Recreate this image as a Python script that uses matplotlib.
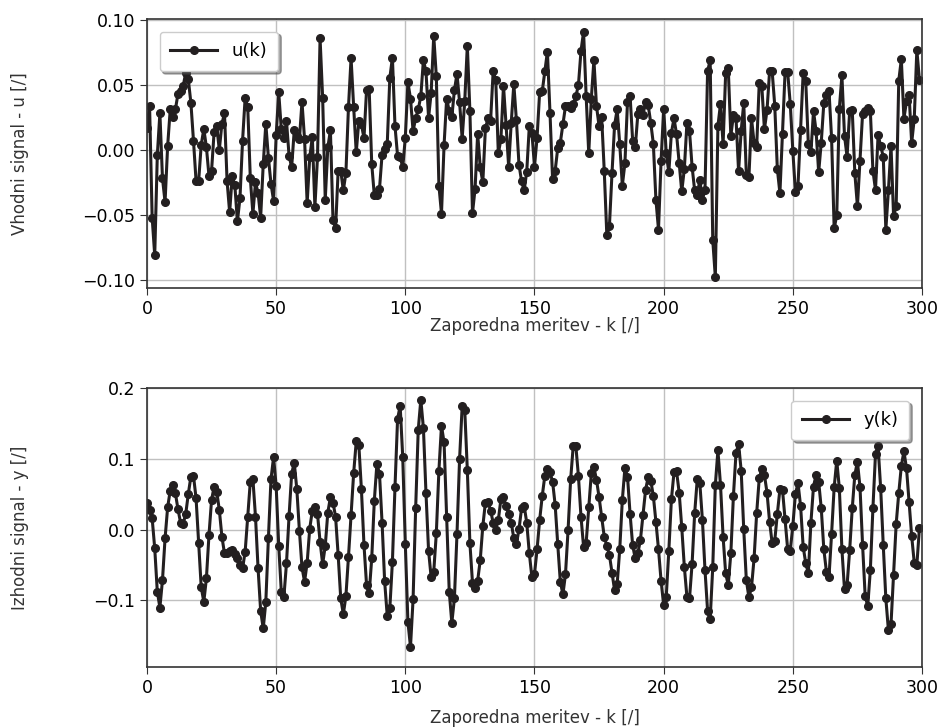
import numpy as np
import matplotlib
matplotlib.use('Agg')
import matplotlib.pyplot as plt

# ── Data ──────────────────────────────────────────────────────────────────────
u_k = [
    0.017, 0.034, -0.052, -0.081, -0.004, 0.028, -0.022, -0.040, 0.003, 0.031,
    0.025, 0.031, 0.043, 0.045, 0.049, 0.059, 0.054, 0.036, 0.007, -0.024,
    -0.024, 0.004, 0.016, 0.002, -0.020, -0.016, 0.014, 0.018, 0.000, 0.020,
    0.028, -0.024, -0.048, -0.020, -0.027, -0.055, -0.037, 0.007, 0.040, 0.033,
    -0.022, -0.049, -0.025, -0.033, -0.052, -0.011, 0.020, -0.006, -0.026, -0.039,
    0.011, 0.044, 0.0157, 0.0094, 0.0221, -0.0046, -0.0135, 0.0150, 0.0107, 0.0081,
    0.0368, 0.0081, -0.0409, -0.0058, 0.0099, -0.0439, -0.0058, 0.0855, 0.0398, -0.0383,
    0.0018, 0.0150, -0.0536, -0.0604, -0.016, -0.016, -0.0312, -0.0178, 0.033, 0.0703,
    0.033, -0.002, 0.0221, 0.0195, 0.0089, 0.0462, 0.0467, -0.0109, -0.035, -0.035,
    -0.030, -0.0038, 0.0005, 0.0043, 0.0551, 0.0708, 0.0183, -0.0046, -0.0053, -0.0135,
    0.0094, 0.052, 0.0393, 0.0145, 0.0241, 0.031, 0.0411, 0.069, 0.0602, 0.0246,
    0.0437, 0.0876, 0.0563, -0.0274, -0.049, 0.0038, 0.0393, 0.0297, 0.0251, 0.0457,
    0.0584, 0.0366, 0.0086, 0.0373, 0.080, 0.0297, -0.0485, -0.030, 0.0124, -0.0135,
    -0.0249, 0.0165, 0.0241, 0.0221, 0.0602, 0.0538, -0.0028, 0.0081, 0.0492, 0.019,
    -0.0129, 0.0208, 0.0505, 0.0226, -0.0114, -0.0241, -0.0312, -0.0168, 0.0183, 0.0132,
    -0.0129, 0.0094, 0.0444, 0.0449, 0.0602, 0.0754, 0.0284, -0.0223, -0.016, 0.0013,
    0.0056, 0.0195, 0.0335, 0.034, 0.0322, 0.0348, 0.0411, 0.0495, 0.0759, 0.0906,
    0.0411, -0.0028, 0.0393, 0.069, 0.0335, 0.0183, 0.0251, -0.016, -0.0655, -0.0586,
    -0.018, 0.019, 0.031, 0.0043, -0.0274, -0.0104, 0.0368, 0.0416, 0.0069, 0.0018,
    0.0272, 0.031, 0.0267, 0.0368, 0.0343, 0.0208, 0.0048, -0.0383, -0.0612, -0.0084,
    0.0315, -0.0028, -0.0173, 0.0132, 0.0241, 0.0119, -0.0104, -0.032, -0.0147, 0.0203,
    0.0145, -0.0129, -0.0312, -0.0345, -0.0231, -0.0383, -0.0307, 0.0602, 0.069, -0.0693,
    -0.0977, 0.0183, 0.0353, 0.0043, 0.0589, 0.0627, 0.0107, 0.0264, 0.0246, -0.0165,
    0.0145, 0.036, -0.019, -0.0211, 0.0241, 0.0056, 0.0023, 0.0513, 0.0487, 0.0157,
    0.0302, 0.0602, 0.0602, 0.034, -0.0147, -0.0333, 0.0124, 0.0597, 0.0597, 0.0353,
    -0.0008, -0.0325, -0.0274, 0.015, 0.0589, 0.0525, 0.0043, -0.002, 0.0297, 0.0145,
    -0.0173, 0.0056, 0.036, 0.0424, 0.0454, 0.0089, -0.0604, -0.0503, 0.0317, 0.0571,
    0.0107, -0.0053, 0.0297, 0.0302, -0.018, -0.0434, -0.0084, 0.0277, 0.0297, 0.0322,
    0.0297, -0.016, -0.0307, 0.0114, 0.003, -0.0053, -0.0612, -0.0312, 0.003, -0.051,
    -0.0434, 0.053, 0.0695, 0.0239, 0.0373, 0.0424, 0.0053, 0.0239, 0.0767, 0.0538,
]

y_k = [
    0.0373, 0.0278, 0.016, -0.0264, -0.0877, -0.11, -0.0712, -0.0123, 0.0316, 0.0552,
    0.0632, 0.0514, 0.0288, 0.0099, 0.008, 0.0222, 0.0505, 0.075, 0.076, 0.0443,
    -0.0193, -0.0816, -0.1019, -0.0689, -0.0075, 0.042, 0.0608, 0.0538, 0.0278, -0.0099,
    -0.0335, -0.0335, -0.030, -0.0288, -0.0344, -0.0406, -0.05, -0.0547, -0.0311, 0.0184,
    0.0679, 0.0712, 0.0184, -0.0547, -0.1146, -0.1396, -0.1019, -0.0123, 0.0712, 0.1024,
    0.0618, -0.0231, -0.0877, -0.0948, -0.0476, 0.0193, 0.0788, 0.0948, 0.0571, -0.0014,
    -0.0533, -0.0736, -0.0467, 0.0014, 0.0269, 0.0325, 0.0222, -0.017, -0.0486, -0.0231,
    0.0241, 0.0458, 0.0382, 0.0184, -0.0358, -0.0972, -0.1193, -0.0939, -0.0382, 0.0208,
    0.0797, 0.1245, 0.1198, 0.0571, -0.0217, -0.0783, -0.0901, -0.0406, 0.041, 0.0929,
    0.0788, 0.0099, -0.0731, -0.1217, -0.1113, -0.0453, 0.0599, 0.1561, 0.175, 0.1024,
    -0.0203, -0.1302, -0.1656, -0.0986, 0.0302, 0.141, 0.1835, 0.1434, 0.0514, -0.0297,
    -0.0675, -0.0594, -0.0052, 0.0835, 0.1467, 0.1231, 0.0184, -0.0877, -0.1316, -0.0972,
    -0.0061, 0.0995, 0.1741, 0.1693, 0.0844, -0.0193, -0.075, -0.083, -0.0722, -0.0429,
    0.0052, 0.0382, 0.0396, 0.0269, 0.0099, -0.0005, 0.0137, 0.0429, 0.0458, 0.0335,
    0.0222, 0.0099, -0.0123, -0.0203, 0.0005, 0.0302, 0.0335, 0.0099, -0.0335, -0.0675,
    -0.0627, -0.0278, 0.0137, 0.0476, 0.0759, 0.0854, 0.0807, 0.0679, 0.0349, -0.0208,
    -0.0736, -0.0915, -0.0627, -0.0005, 0.0712, 0.1184, 0.1184, 0.0759, 0.0184, -0.0241,
    -0.0184, 0.0316, 0.0797, 0.0882, 0.0703, 0.0458, 0.0175, -0.0099, -0.0231, -0.0358,
    -0.0608, -0.0854, -0.0769, -0.0278, 0.042, 0.0868, 0.075, 0.0222, -0.0222, -0.0406,
    -0.0335, -0.0146, 0.0208, 0.0561, 0.0741, 0.0693, 0.0476, 0.0113, -0.0278, -0.0722,
    -0.1066, -0.0948, -0.0297, 0.0429, 0.0807, 0.0821, 0.0524, 0.0033, -0.0524, -0.0948,
    -0.0972, -0.0486, 0.0231, 0.0712, 0.0656, 0.0137, -0.0571, -0.1146, -0.1264, -0.0533,
    0.0632, 0.1118, 0.0632, -0.0099, -0.0618, -0.0783, -0.0335, 0.0476, 0.108, 0.1212,
    0.0835, 0.0005, -0.0712, -0.0958, -0.0816, -0.0406, 0.0231, 0.0726, 0.0854, 0.0774,
    0.0524, 0.0113, -0.0193, -0.0156, 0.0222, 0.0571, 0.0561, 0.0146, -0.0278, -0.0297,
    0.0052, 0.0505, 0.0656, 0.0335, -0.0241, -0.0476, -0.0618, 0.0099, 0.0608, 0.0774,
    0.0679, 0.0302, -0.0278, -0.0594, -0.0665, -0.0061, 0.0599, 0.0976, 0.0585, -0.0278,
    -0.0844, -0.0783, -0.0288, 0.0302, 0.0774, 0.0962, 0.0599, -0.0217, -0.0939, -0.108,
    -0.0571, 0.0302, 0.1071, 0.1175, 0.0585, -0.0217, -0.0972, -0.142, -0.1335, -0.0642,
    0.008, 0.0514, 0.0901, 0.1104, 0.0868, 0.0396, -0.009, -0.0467, -0.05, 0.0019,
]

k_u = np.arange(len(u_k))
k_y = np.arange(len(y_k))

x_ticks = [0, 50, 100, 150, 200, 250, 300]
u_ticks = [-0.10, -0.05, 0.00, 0.05, 0.10]
y_ticks = [-0.1, 0.0, 0.1, 0.2]

# ── Plot ──────────────────────────────────────────────────────────────────────
fig = plt.figure(figsize=(9.44, 7.27), dpi=100)
ax1 = fig.add_axes([0.1557, 0.6040, 0.8210, 0.3700])
ax2 = fig.add_axes([0.1557, 0.0825, 0.8210, 0.3838])

line_kw = dict(color='#231f20', linewidth=2.2, marker='o', markersize=5.5)
leg_kw = dict(fontsize=13, shadow=True, fancybox=True, handlelength=2.6,
              borderpad=0.6, borderaxespad=0.7, framealpha=1)
label_kw = dict(fontsize=12, color='#333333')

ax1.plot(k_u, u_k, label='u(k)', **line_kw)
ax1.set_xlim(0, 300)
ax1.set_ylim(-0.106, 0.1005)
ax1.set_xticks(x_ticks)
ax1.set_yticks(u_ticks)
ax1.set_yticklabels([f'{v:.2f}'.replace('-', '\u2212') for v in u_ticks])
ax1.set_xlabel('Zaporedna meritev - k [/]', **label_kw)
ax1.set_ylabel('Vhodni signal - u [/]', **label_kw)
ax1.legend(loc='upper left', **leg_kw)
ax1.yaxis.set_label_coords(-0.152, 0.5)
ax1.xaxis.set_label_coords(0.5, -0.108)

ax2.plot(k_y, y_k, label='y(k)', **line_kw)
ax2.set_xlim(0, 300)
ax2.set_ylim(-0.194, 0.2)
ax2.set_xticks(x_ticks)
ax2.set_yticks(y_ticks)
ax2.set_yticklabels([f'{v:.1f}'.replace('-', '\u2212') for v in y_ticks])
ax2.set_xlabel('Zaporedna meritev - k [/]', **label_kw)
ax2.set_ylabel('Izhodni signal - y [/]', **label_kw)
ax2.legend(loc='upper right', **leg_kw)
ax2.yaxis.set_label_coords(-0.152, 0.5)
ax2.xaxis.set_label_coords(0.5, -0.15)

for ax in (ax1, ax2):
    ax.grid(True, color='#c0c0c0', linewidth=1)
    ax.set_axisbelow(True)
    ax.tick_params(labelsize=12.5, length=5, color='#333333')
    for s in ax.spines.values():
        s.set_color('#333333')
        s.set_linewidth(1.2)

fig.savefig('out.png', dpi=100)
